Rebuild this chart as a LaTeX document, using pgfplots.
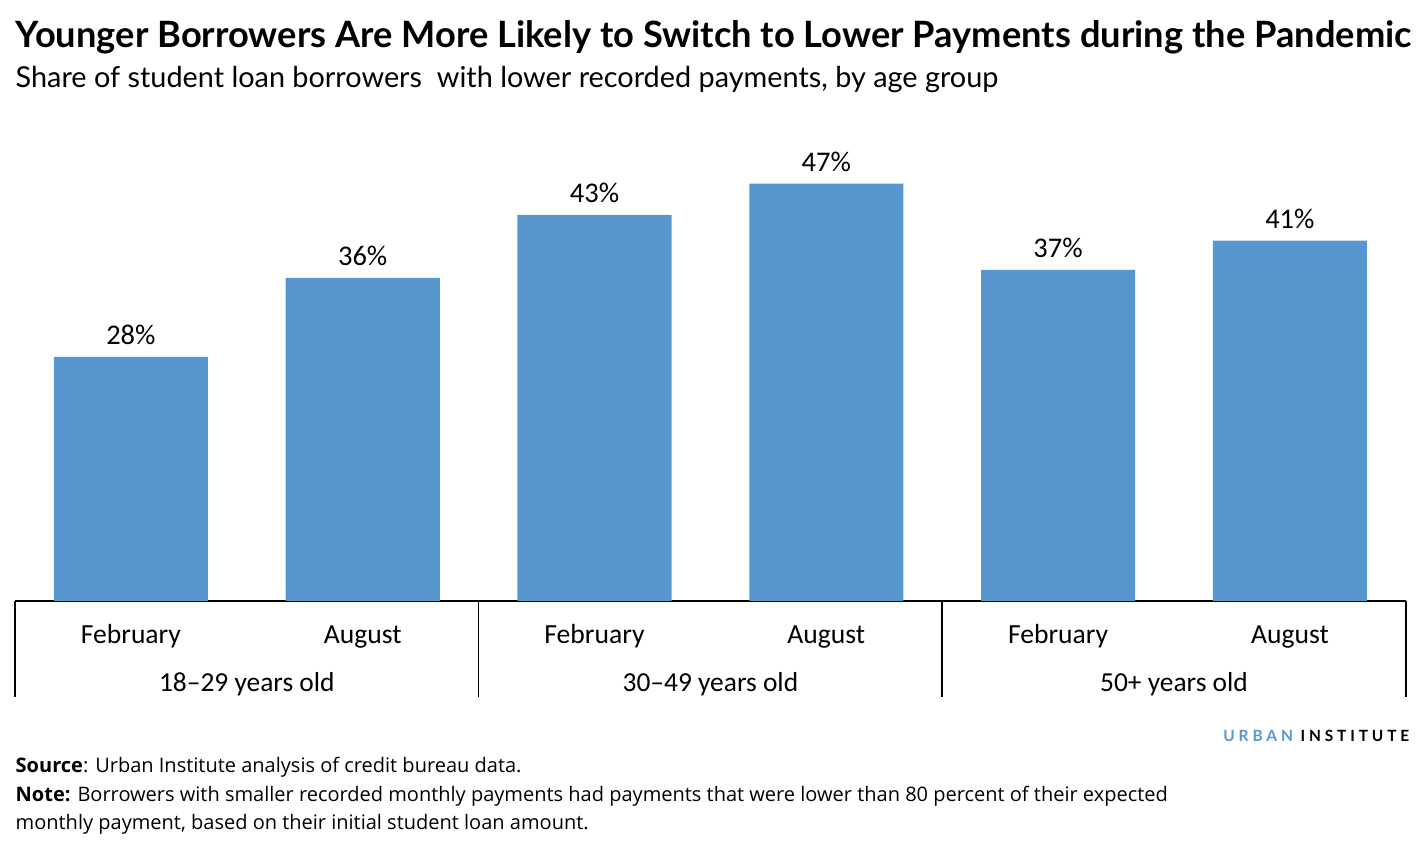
\documentclass[border=0pt]{standalone}
\usepackage{fontspec}
\usepackage{pgfplots}
\pgfplotsset{compat=1.18}
\setmainfont{Carlito}
\newfontfamily\lato{Lato}
\newfontfamily\notefont{Open Sans}
\definecolor{urbanblue}{RGB}{88,150,208}

\begin{document}
\begin{tikzpicture}[x=0.01cm, y=0.01cm]
    % canvas in pixel units, origin bottom left
    \path (0,0) rectangle (1427,843);

    \begin{axis}[
        at={(0.15cm,2.42cm)}, anchor=south west,
        scale only axis,
        width=13.9cm, height=4.435cm,
        xmin=-0.5, xmax=5.5,
        ymin=0, ymax=50,
        axis y line=none,
        axis x line=bottom,
        x axis line style={-, black, line width=0.6pt},
        xtick=data,
        xticklabels={February, August, February, August, February, August},
        major tick length=0pt,
        xticklabel style={anchor=base, yshift=-0.43cm, font=\fontsize{7.85}{10}\selectfont},
        clip=false,
        point meta=explicit,
        /pgf/number format/assume math mode=true,
        nodes near coords={\pgfmathprintnumber{\pgfplotspointmeta}\%},
        nodes near coords style={anchor=center, yshift=0.22cm, font=\fontsize{8.1}{10}\selectfont},
    ]
    % bar heights as drawn, labels as printed
    \addplot[ybar, bar width=1.54cm, fill=urbanblue, draw=none] coordinates {
        (0,27.5) [28] (1,36.4) [36] (2,43.5) [43] (3,47) [47] (4,37.3) [37] (5,40.6) [41]
    };
    % group separators of the category table
    \pgfplotsinvokeforeach{-0.5, 1.5, 3.5, 5.5}{
        \draw[line width=0.5pt] (axis cs:#1,0) -- ++(0pt,-0.96cm);
    }
    \node[anchor=base, font=\fontsize{7.8}{10}\selectfont] at ([yshift=-0.91cm]axis cs:0.5,0) {18--29 years old};
    \node[anchor=base, font=\fontsize{7.8}{10}\selectfont] at ([yshift=-0.91cm]axis cs:2.5,0) {30--49 years old};
    \node[anchor=base, font=\fontsize{7.8}{10}\selectfont] at ([yshift=-0.91cm]axis cs:4.5,0) {50+ years old};
    \end{axis}

    \node[anchor=base west, inner sep=0pt, font=\lato\bfseries\fontsize{10.31}{12}\selectfont]
        at (15,795) {Younger Borrowers Are More Likely to Switch to Lower Payments during the Pandemic};
    \node[anchor=base west, inner sep=0pt, font=\lato\fontsize{8.2}{10}\selectfont]
        at (15,755) {Share of student loan borrowers\ \ with lower recorded payments, by age group};
    \node[anchor=base east, inner sep=0pt, font=\lato\bfseries\fontsize{4.4}{5}\selectfont]
        at (1410,101) {\addfontfeatures{LetterSpace=25}\textcolor{urbanblue}{URBAN} INSTITUTE};
    \node[anchor=base west, inner sep=0pt, font=\notefont\fontsize{5.69}{7}\selectfont]
        at (15,70) {\textbf{Source}: Urban Institute analysis of credit bureau data.};
    \node[anchor=base west, inner sep=0pt, font=\notefont\fontsize{5.69}{7}\selectfont]
        at (15,41) {\textbf{Note:} Borrowers with smaller recorded monthly payments had payments that were lower than 80 percent of their expected};
    \node[anchor=base west, inner sep=0pt, font=\notefont\fontsize{5.69}{7}\selectfont]
        at (15,13) {monthly payment, based on their initial student loan amount.};
\end{tikzpicture}
\end{document}
